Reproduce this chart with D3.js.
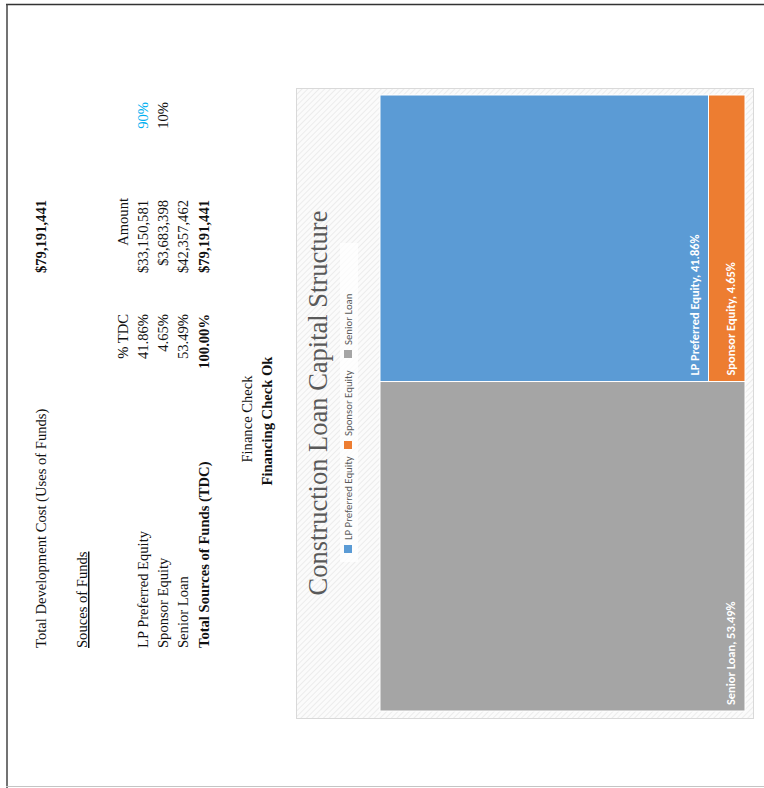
<!DOCTYPE html>
<html>
<head>
<meta charset="utf-8">
<script src="https://cdn.jsdelivr.net/npm/d3@7"></script>
<style>
	body { margin: 0; background: #fff; }
	svg { display: block; }
</style>
</head>
<body>
<div id="page"></div>
<script>

// data
var sources = ["LP Preferred Equity", "Sponsor Equity", "Senior Loan"];
var amounts = [33150581, 3683398, 42357462];
var pctTDC = [41.86, 4.65, 53.49];
var colors = ["#5b9bd5", "#ed7d31", "#a5a5a5"];
var splitPct = ["90%", "10%"];
var checkText = "Financing Check Ok";

var W = 764, H = 788;
var fmtMoney = d3.format("$,");
var fmtPct = function(v) { return v.toFixed(2) + "%"; };
var total = d3.sum(amounts);

var svg = d3.select("#page").append("svg").attr("width", W).attr("height", H);

var defs = svg.append("defs");
var pat = defs.append("pattern")
	.attr("id", "hatch")
	.attr("patternUnits", "userSpaceOnUse")
	.attr("width", 4).attr("height", 4)
	.attr("patternTransform", "rotate(45)");
pat.append("rect").attr("width", 4).attr("height", 4).attr("fill", "#fbfbfb");
pat.append("line").attr("x1", 0).attr("y1", 0).attr("x2", 0).attr("y2", 4)
	.attr("stroke", "#e9e9e9").attr("stroke-width", 1.6);

// page frame
svg.append("line").attr("x1", 6).attr("y1", 4.5).attr("x2", W).attr("y2", 4.5)
	.attr("stroke", "#333").attr("stroke-width", 1.5);
svg.append("line").attr("x1", 7).attr("y1", 4).attr("x2", 7).attr("y2", H)
	.attr("stroke", "#444").attr("stroke-width", 1.5);
svg.append("line").attr("x1", 6).attr("y1", 786.5).attr("x2", W).attr("y2", 786.5)
	.attr("stroke", "#c4c4c4").attr("stroke-width", 1);

// chart area background
svg.append("rect")
	.attr("x", 296.5).attr("y", 88.5).attr("width", 457).attr("height", 630)
	.attr("fill", "url(#hatch)").attr("stroke", "#d9d9d9");

// everything else is laid out on the sheet and then turned a quarter
var g = svg.append("g").attr("transform", "translate(0," + H + ") rotate(-90)");

var serif = "'Liberation Serif', 'DejaVu Serif', serif";
var sans = "Carlito, 'Liberation Sans', Arial, sans-serif";

function txt(x, y, s, anchor, opts) {
	opts = opts || {};
	return g.append("text")
		.attr("x", x).attr("y", y)
		.attr("text-anchor", anchor)
		.attr("font-family", opts.family || serif)
		.attr("font-size", opts.size || 14.6)
		.attr("font-weight", opts.bold ? "bold" : "normal")
		.attr("fill", opts.fill || "#111")
		.text(s);
}

// --- table ---
var labelX = 140, pctX = 474, amtX = 588;

txt(labelX, 46, "Total Development Cost (Uses of Funds)", "start");
txt(amtX, 46, fmtMoney(total), "end", {bold: true});

txt(labelX, 87, "Souces of Funds", "start").attr("text-decoration", "underline");

txt(pctX, 128, "% TDC", "end");
txt(amtX + 2, 128, "Amount", "end");

var rowY = [148, 168, 188];
sources.forEach(function(s, i) {
	txt(labelX, rowY[i], s, "start");
	txt(pctX, rowY[i], fmtPct(pctTDC[i]), "end");
	txt(amtX, rowY[i], fmtMoney(amounts[i]), "end");
});
txt(labelX, 209, "Total Sources of Funds (TDC)", "start", {bold: true});
txt(pctX, 209, fmtPct(d3.sum(pctTDC)), "end", {bold: true});
txt(amtX, 209, fmtMoney(total), "end", {bold: true});

splitPct.forEach(function(s, i) {
	txt(686, rowY[i], s, "end", {fill: i == 0 ? "#00b0f0" : "#111"});
});

txt(369, 252, "Finance Check", "middle");
txt(367, 272, checkText, "middle", {bold: true});

// --- chart ---
txt(385, 327, "Construction Loan Capital Structure", "middle", {size: 26.5, fill: "#595959"});

// legend
var legendG = g.append("g");
legendG.append("rect")
	.attr("x", 226).attr("y", 340).attr("width", 319).attr("height", 18)
	.attr("fill", "#fff").attr("fill-opacity", 0.75);
var legendX = [235, 339, 430];
sources.forEach(function(s, i) {
	legendG.append("rect")
		.attr("x", legendX[i]).attr("y", 344).attr("width", 8).attr("height", 8)
		.attr("fill", colors[i]);
	legendG.append("text")
		.attr("x", legendX[i] + 13).attr("y", 352)
		.attr("font-family", sans).attr("font-size", 10.8)
		.attr("fill", "#595959")
		.text(s);
});

// treemap
var root = d3.hierarchy({children: sources.map(function(s, i) {
		return {name: s, value: amounts[i], pct: pctTDC[i], color: colors[i]};
	})})
	.sum(function(d) { return d.value || 0; })
	.sort(function(a, b) { return b.value - a.value; });

d3.treemap().size([616, 365]).tile(d3.treemapSquarify)(root);

var cells = g.append("g").attr("transform", "translate(77,380)")
	.selectAll("g")
	.data(root.leaves())
	.enter()
	.append("g");

cells.append("rect")
	.attr("x", function(d) { return d.x0; })
	.attr("y", function(d) { return d.y0; })
	.attr("width", function(d) { return d.x1 - d.x0; })
	.attr("height", function(d) { return d.y1 - d.y0; })
	.attr("fill", function(d) { return d.data.color; })
	.attr("stroke", "#fff").attr("stroke-width", 1);

cells.append("text")
	.attr("x", function(d) { return d.x0 + 6; })
	.attr("y", function(d) { return d.y1 - 10; })
	.attr("font-family", sans).attr("font-size", 12.4)
	.attr("font-weight", "bold")
	.attr("fill", "#fff")
	.text(function(d) { return d.data.name + ", " + fmtPct(d.data.pct); });

</script>
</body>
</html>
